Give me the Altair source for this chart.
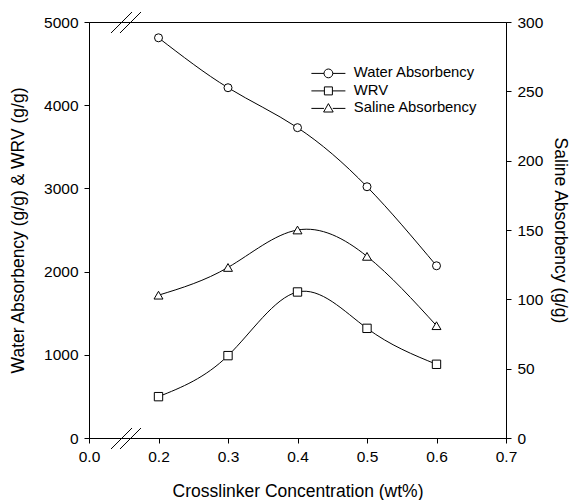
import altair as alt
import pandas as pd

conc = [0.2, 0.3, 0.4, 0.5, 0.6]
water = [4810, 4210, 3730, 3020, 2070]
wrv = [497, 990, 1755, 1318, 886]
saline = [103, 123, 150, 131, 81]
series = ["Water Absorbency", "WRV", "Saline Absorbency"]
x_ticks = [0.1, 0.2, 0.3, 0.4, 0.5, 0.6, 0.7]

df = pd.DataFrame({"conc": conc, "Water Absorbency": water, "WRV": wrv, "Saline Absorbency": saline})

FONT = "Liberation Sans"
W, H = 417, 416

xscale = alt.Scale(domain=[0.1, 0.7], nice=False, zero=False)
xenc = alt.X("conc:Q", scale=xscale, axis=alt.Axis(
    values=x_ticks, title="Crosslinker Concentration (wt%)",
    labelExpr="datum.value < 0.15 ? '0.0' : format(datum.value, '.1f')",
    labelFlush=False, labelPadding=6, titlePadding=18, tickSize=5))

yleft_scale = alt.Scale(domain=[0, 5000], nice=False)
yleft_axis = alt.Axis(values=[0, 1000, 2000, 3000, 4000, 5000], title="Water Absorbency (g/g) & WRV (g/g)",
                      format="d", labelPadding=6, titlePadding=16, tickSize=5)

def ly(field):
    return alt.Y(field=field, type="quantitative", scale=yleft_scale, axis=yleft_axis)

base = alt.Chart(df)
interp = "natural"

water_line = base.mark_line(color="black", strokeWidth=1, interpolate=interp).encode(x=xenc, y=ly("Water Absorbency"))
water_pts = base.mark_point(shape="circle", size=64, filled=True, fill="white", stroke="black", strokeWidth=1, opacity=1).encode(x=xenc, y=ly("Water Absorbency"))
wrv_line = base.mark_line(color="black", strokeWidth=1, interpolate=interp).encode(x=xenc, y=ly("WRV"))
wrv_pts = base.mark_point(shape="square", size=70, filled=True, fill="white", stroke="black", strokeWidth=1, opacity=1).encode(x=xenc, y=ly("WRV"))

legend_paths = [
    "M-4.25,0H-1.1M1.1,0H4.25M-1.1,0A1.1,1.1,0,1,1,1.1,0A1.1,1.1,0,1,1,-1.1,0Z",
    "M-4.25,0H-1M1,0H4.25M-1,-1H1V1H-1Z",
    "M-4.25,0H-1.1M1.1,0H4.25M0,-1.2L1.2,0.9H-1.2Z",
]
# legend-only layer: its data is filtered out; the legend comes from the fixed shape domain
legend_layer = base.transform_fold(series, as_=["series", "val"]).transform_filter("false").mark_point(
    filled=False, size=64, opacity=1, color="black", strokeWidth=1).encode(
    x=xenc,
    y=alt.Y("val:Q", scale=yleft_scale, axis=yleft_axis),
    shape=alt.Shape("series:N", scale=alt.Scale(domain=series, range=legend_paths),
                    legend=alt.Legend(title=None, orient="none", legendX=232, legendY=44,
                                      symbolSize=64, symbolStrokeColor="black",
                                      symbolStrokeWidth=1, symbolOpacity=1, labelFontSize=14.8,
                                      labelOffset=18, rowPadding=1.5, padding=0, labelFont=FONT,
                                      labelColor="black")),
)

one = alt.Data(values=[{"a": 1}])
brk = []
for (xa, xb) in [(0.1317, 0.1619), (0.1446, 0.1748)]:
    brk.append(alt.Chart(one).mark_rule(color="black", strokeWidth=1).encode(
        x=alt.datum(xa, scale=xscale), x2=alt.datum(xb), y=alt.value(427), y2=alt.value(406)))
    brk.append(alt.Chart(one).mark_rule(color="black", strokeWidth=1).encode(
        x=alt.datum(xa, scale=xscale), x2=alt.datum(xb), y=alt.value(11), y2=alt.value(-10)))

left = alt.layer(water_line, water_pts, wrv_line, wrv_pts, legend_layer, *brk)

yright_scale = alt.Scale(domain=[0, 300], nice=False)
yright_axis = alt.Axis(values=[0, 50, 100, 150, 200, 250, 300], title="Saline Absorbency (g/g)",
                       orient="right", labelPadding=6, titlePadding=8, tickSize=5)
ry = alt.Y(field="Saline Absorbency", type="quantitative", scale=yright_scale, axis=yright_axis)
sal_line = base.mark_line(color="black", strokeWidth=1, interpolate=interp).encode(x=xenc, y=ry)
sal_pts = base.mark_point(shape="triangle-up", size=80, filled=True, fill="white", stroke="black", strokeWidth=1, opacity=1).encode(x=xenc, y=ry)
right = alt.layer(sal_line, sal_pts)

chart = alt.layer(left, right).resolve_scale(y="independent", shape="independent").properties(
    width=W, height=H,
    autosize=alt.AutoSizeParams(type="none"),
    padding={"left": 89, "top": 22, "right": 64, "bottom": 62},
    background="white",
).configure_view(stroke="black", strokeWidth=1).configure_axis(
    grid=False, domainColor="black", tickColor="black", labelColor="black", titleColor="black",
    labelFont=FONT, titleFont=FONT, labelFontSize=15.5, titleFontSize=17.5, titleFontWeight="normal",
    domainWidth=1, tickWidth=1,
)

chart.save("out.html", embed_options={"renderer": "svg", "actions": False})
